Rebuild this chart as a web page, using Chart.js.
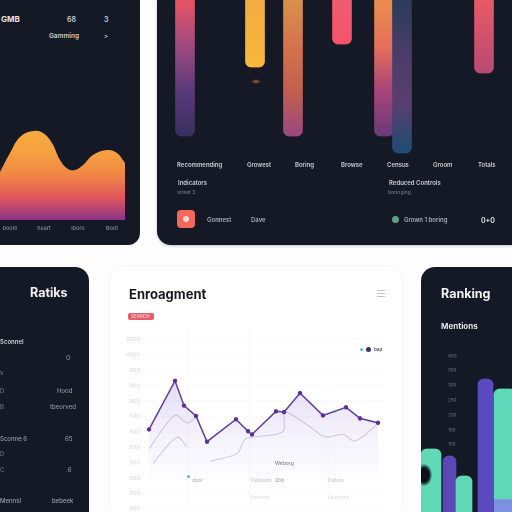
<!DOCTYPE html>
<html>
<head>
<meta charset="utf-8">
<script src="https://cdn.jsdelivr.net/npm/chart.js@4/dist/chart.umd.min.js"></script>
<style>
html, body { margin: 0; padding: 0; width: 512px; height: 512px; overflow: hidden; background: #fdfdfe; }
body { position: relative; font-family: Inter, "Liberation Sans", sans-serif; }
.card { position: absolute; background: #141925; overflow: hidden; }
.t { position: absolute; white-space: nowrap; line-height: 1; transform: translateY(-50%); font-size: 6px; font-weight: 600; color: #c9ccd3; }
.dim { color: #6f7480; font-weight: 500; }
.pale { color: #c8cad0; font-weight: 500; font-size: 5px; }
canvas { position: absolute; }
.soft { position: absolute; inset: 0; filter: blur(0.3px); }
</style>
</head>
<body>
<div class="soft">

<div class="card" style="left:0;top:0;width:140px;height:245px;border-bottom-right-radius:12px">
  <canvas id="areaChart" style="left:0;top:125px"></canvas>
</div>

<div class="card" style="left:157px;top:0;width:355px;height:245px;border-bottom-left-radius:14px;box-shadow:0 1px 3px rgba(20,25,37,.25)">
  <canvas id="dripChart" style="left:0;top:0"></canvas>
  <div style="position:absolute;left:94px;top:79px;width:10px;height:5px;border-radius:50%;background:radial-gradient(#a8683a,transparent 70%)"></div>
  <div style="position:absolute;left:20px;top:210px;width:18px;height:18px;border-radius:4px;background:#f4675c"></div>
  <div style="position:absolute;left:26px;top:216px;width:6px;height:6px;border-radius:50%;background:#ffd9d2"></div>
  <div style="position:absolute;left:235px;top:216px;width:7px;height:7px;border-radius:50%;background:#5f9f86"></div>
</div>

<div class="card" style="left:0;top:267px;width:89px;height:245px;border-top-right-radius:14px"></div>

<div class="card" style="left:110px;top:267px;width:292px;height:250px;background:#fff;border-radius:12px;box-shadow:0 0 0 1px #f6f6f8">
  <canvas id="engageChart" style="left:0;top:58px"></canvas>
  <div style="position:absolute;left:18px;top:46px;width:26px;height:7px;border-radius:2px;background:#ea5a68"></div>
  <div style="position:absolute;left:267px;top:23px;width:8px;height:1px;background:#c4c4ca;box-shadow:0 3px #c4c4ca,0 6px #c4c4ca"></div>
  <div style="position:absolute;left:250px;top:81px;width:3px;height:3px;border-radius:50%;background:#5fb3d9"></div>
  <div style="position:absolute;left:256px;top:80px;width:5px;height:5px;border-radius:50%;background:#3d2f6e"></div>
  <div style="position:absolute;left:77px;top:208px;width:3px;height:3px;border-radius:50%;background:#6fb5a5"></div>
</div>

<div class="card" style="left:421px;top:267px;width:91px;height:245px;border-top-left-radius:14px">
  <canvas id="rankChart" style="left:0;top:0"></canvas>
  <div style="position:absolute;left:-5px;top:197px;width:16px;height:22px;border-radius:50%;background:radial-gradient(#0d1119 45%,transparent 75%)"></div>
</div>

<!-- card text, top left -->
<span class="t" style="left:1px;top:19px;font-size:8px;font-weight:700;color:#e6e8ec">GMB</span>
<span class="t" style="left:67px;top:19px;font-size:7px">68</span>
<span class="t" style="left:104px;top:19px;font-size:7px">3</span>
<span class="t" style="left:49px;top:36px;font-size:6.5px">Gamming</span>
<span class="t" style="left:104px;top:36px;font-size:6px">&gt;</span>

<!-- card text, top right -->
<span class="t" style="left:177px;top:165px">Recommending</span>
<span class="t" style="left:247px;top:165px">Growest</span>
<span class="t" style="left:295px;top:165px">Boring</span>
<span class="t" style="left:341px;top:165px">Browse</span>
<span class="t" style="left:387px;top:165px">Census</span>
<span class="t" style="left:433px;top:165px">Groom</span>
<span class="t" style="left:478px;top:165px">Totals</span>
<span class="t" style="left:178px;top:183px">Indicators</span>
<span class="t dim" style="left:177px;top:192px;font-size:5px">street 3</span>
<span class="t" style="left:389px;top:183px">Reduced Controls</span>
<span class="t dim" style="left:388px;top:192px;font-size:5px">boringing</span>
<span class="t" style="left:207px;top:220px;color:#a9adb6">Gonnest</span>
<span class="t" style="left:251px;top:220px;color:#a9adb6">Dave</span>
<span class="t" style="left:404px;top:220px;color:#a9adb6">Grown 1 boring</span>
<span class="t" style="left:481px;top:220px;font-size:7px;color:#e6e8ec">0+0</span>

<!-- card text, lower left -->
<span class="t" style="left:30px;top:293px;font-size:12.5px;font-weight:700;color:#f1f2f4">Ratiks</span>
<span class="t" style="left:0;top:342px">Sconnel</span>
<span class="t dim" style="left:66px;top:358px;color:#9a9ea8">O</span>
<span class="t dim" style="left:0;top:373px">v</span>
<span class="t dim" style="left:0;top:391px">D</span>
<span class="t dim" style="left:57px;top:391px;color:#8f939d">Hood</span>
<span class="t dim" style="left:0;top:407px">B</span>
<span class="t dim" style="left:50px;top:407px;color:#8f939d">tbeorved</span>
<span class="t dim" style="left:0;top:439px;color:#9a9ea8">Sconne 6</span>
<span class="t dim" style="left:65px;top:439px;color:#8f939d">65</span>
<span class="t dim" style="left:0;top:454px">D</span>
<span class="t dim" style="left:0;top:470px">C</span>
<span class="t dim" style="left:66px;top:470px;color:#8f939d">.6</span>
<span class="t dim" style="left:0;top:501px;color:#9a9ea8">Mennsl</span>
<span class="t dim" style="left:52px;top:501px;color:#9a9ea8">bebeek</span>

<!-- card text, middle -->
<span class="t" style="left:129px;top:294px;font-size:13px;font-weight:700;color:#17181d">Enroagment</span>
<span class="t" style="left:131px;top:316.5px;font-size:4.5px;color:#f7c9cd">SEARCH</span>
<span class="t" style="left:374px;top:350px;font-size:4.5px;color:#55566a">bap</span>
<span class="t pale" style="left:275px;top:463px;color:#8a86a8">Weborg</span>
<span class="t pale" style="left:192px;top:480px;color:#b4b6bc">door</span>
<span class="t pale" style="left:251px;top:480px">Datasets</span>
<span class="t pale" style="left:275px;top:480px;color:#a8aab2">2bb</span>
<span class="t pale" style="left:328px;top:480px">Datum</span>
<span class="t pale" style="left:250px;top:497px;color:#e0e1e5">Reviews</span>
<span class="t pale" style="left:328px;top:497px;color:#e0e1e5">Licenses</span>

<!-- card text, lower right -->
<span class="t" style="left:441px;top:294px;font-size:12.5px;font-weight:700;color:#f1f2f4">Ranking</span>
<span class="t" style="left:441px;top:326px;font-size:8px;font-weight:700;color:#dfe1e6">Mentions</span>

</div>

<script>
// top left area
const areaX = [0, 10, 20, 33, 43, 52, 60, 68, 75, 83, 93, 107, 117, 125];
const areaValues = [48, 67, 83, 89, 87, 77, 60, 51, 50, 55, 65, 70, 67, 57];
const areaTicks = [10, 44, 78, 112];
const areaTickLabels = ["boom", "heart", "Iboro", "Boot"];

// top right hanging bars
const dripX = [28, 98, 136, 185, 227, 245, 327];
const dripValues = [136, 67, 136, 44, 136, 153, 73];

// middle line chart
const engageX = [9, 35, 44, 56, 67, 96, 108, 112, 136, 144, 160, 183, 206, 220, 238];
const engageValues = [516, 832, 671, 604, 437, 582, 505, 484, 634, 629, 752, 607, 660, 588, 559];
const echoAX = [9, 35, 47, 56];
const echoAValues = [391, 609, 559, 596];
const echoBX = [13, 37, 47];
const echoBValues = [298, 466, 404];
const echoCX = [70, 97, 105, 113, 143, 145, 163, 180, 187, 203, 215, 238];
const echoCValues = [311, 360, 453, 466, 503, 627, 565, 484, 466, 484, 441, 553];
const engageGridX = [48, 110, 188];
const engageTickLabels = ["500", "500", "500", "500", "500", "500", "500", "800", "500", "900", "4000", "5000"];

// lower right bars
const rankX = [10, 28.5, 43, 64.5, 84];
const rankValues = [63, 56, 36, 133, 123];
const rankTicks = [68, 82, 97, 112, 127, 142, 156];
const rankTickLabels = ["100", "150", "200", "250", "300", "350", "400"];

// colour stops, top to bottom
const areaColors = ["#f6ab3f", "#f5a041", "#f08645", "#e2565f", "#8b3387"];
const dripColors = [
    ["#e85565", "#a04a80", "#5a3a7a", "#38305e"],
    ["#f3ad42", "#f6b23e", "#f9b83c"],
    ["#d8924a", "#d4744c", "#c2604f", "#9a4880"],
    ["#f05c70", "#f4546c"],
    ["#e98e4e", "#e8705a", "#a8457a", "#6a3a78"],
    ["#2a3c58", "#4a3c68", "#5a3f6e", "#1f4c74"],
    ["#e85a68", "#b84a70"]
];
const rankColors = ["#62d9b6", "#5a48b4", "#62d9b6", "#5a4ac0", "#5fd8b8"];
const rankWidths = [20, 13, 16, 15, 22];

function stops(c, y0, y1, colors) {
    const g = c.chart.ctx.createLinearGradient(0, y0, 0, y1);
    colors.forEach((col, i) => g.addColorStop(i / (colors.length - 1), col));
    return g;
}

// tick labels should not push the plot area in
function noTickPadding(s) {
    s.paddingTop = 0;
    s.paddingBottom = 0;
    s.paddingLeft = 0;
    s.paddingRight = 0;
}

Chart.defaults.animation = false;
Chart.defaults.responsive = false;
Chart.defaults.font.family = "Inter, 'Liberation Sans', sans-serif";
Chart.defaults.plugins.legend.display = false;
Chart.defaults.plugins.tooltip.enabled = false;

function makeCanvas(id, w, h) {
    const el = document.getElementById(id);
    el.width = w;
    el.height = h;
    return el;
}

new Chart(makeCanvas('areaChart', 125, 110), {
    type: 'line',
    data: {
        datasets: [{
            data: areaX.map((x, i) => ({ x: x, y: areaValues[i] })),
            borderWidth: 0,
            pointRadius: 0,
            tension: 0.4,
            fill: 'origin',
            backgroundColor: c => {
                const a = c.chart.chartArea;
                if (!a) return '#f6a93f';
                return stops(c, a.bottom - 89, a.bottom, areaColors);
            }
        }]
    },
    options: {
        devicePixelRatio: 2,
        layout: { padding: 0 },
        scales: {
            x: {
                type: 'linear', min: 0, max: 125,
                afterBuildTicks: s => { s.ticks = areaTicks.map(v => ({ value: v })); },
                afterFit: s => { s.height = 15; noTickPadding(s); },
                grid: { display: false, drawTicks: false },
                border: { display: false },
                ticks: {
                    padding: 5,
                    maxRotation: 0,
                    autoSkip: false,
                    color: '#9ea2ab',
                    font: { size: 5.5 },
                    callback: (v, i) => areaTickLabels[i]
                }
            },
            y: { display: false, min: 0, max: 95 }
        }
    }
});

new Chart(makeCanvas('dripChart', 355, 160), {
    type: 'bar',
    data: {
        datasets: [{
            data: dripX.map((x, i) => ({ x: x, y: dripValues[i] })),
            barThickness: 19,
            borderRadius: 6,
            backgroundColor: c => {
                const a = c.chart.chartArea;
                if (!a || c.dataIndex === undefined) return '#e85565';
                const end = c.chart.scales.y.getPixelForValue(dripValues[c.dataIndex]);
                return stops(c, 0, end, dripColors[c.dataIndex]);
            }
        }]
    },
    options: {
        devicePixelRatio: 2,
        layout: { padding: 0 },
        scales: {
            x: { type: 'linear', display: false, offset: false, min: 0, max: 355 },
            y: { display: false, reverse: true, min: 0, max: 160 }
        }
    }
});

new Chart(makeCanvas('engageChart', 292, 188), {
    type: 'line',
    data: {
        datasets: [
            {
                data: engageX.map((x, i) => ({ x: x, y: engageValues[i] })),
                borderColor: '#5d3ca3',
                borderWidth: 1.5,
                pointRadius: 2.2,
                pointBackgroundColor: '#5a2f9e',
                pointBorderWidth: 0,
                tension: 0,
                fill: 'origin',
                backgroundColor: c => {
                    const a = c.chart.chartArea;
                    if (!a) return 'transparent';
                    return stops(c, a.top + 50, a.bottom - 25, ["rgba(120,90,205,.22)", "rgba(140,115,215,.1)", "rgba(140,115,215,0)"]);
                }
            },
            { data: echoAX.map((x, i) => ({ x: x, y: echoAValues[i] })), borderColor: 'rgba(130,110,190,.35)', borderWidth: 1, pointRadius: 0, tension: 0.3 },
            { data: echoBX.map((x, i) => ({ x: x, y: echoBValues[i] })), borderColor: 'rgba(130,110,190,.35)', borderWidth: 1, pointRadius: 0, tension: 0.3 },
            { data: echoCX.map((x, i) => ({ x: x, y: echoCValues[i] })), borderColor: 'rgba(130,110,190,.35)', borderWidth: 1, pointRadius: 0, tension: 0.3 }
        ]
    },
    options: {
        devicePixelRatio: 2,
        layout: { padding: { left: 0, right: 17, top: 0, bottom: 0 } },
        scales: {
            x: {
                type: 'linear', min: 0, max: 245,
                afterBuildTicks: s => { s.ticks = engageGridX.map(v => ({ value: v })); },
                grid: { color: 'rgba(110,110,150,.05)', drawTicks: false },
                border: { display: false },
                ticks: { display: false }
            },
            y: {
                min: 0, max: 1168,
                afterBuildTicks: s => { s.ticks = engageTickLabels.map((l, i) => ({ value: i * 100 })); },
                afterFit: s => { s.width = 30; noTickPadding(s); },
                grid: { color: 'rgba(110,110,150,.03)', drawTicks: false },
                border: { display: false },
                ticks: {
                    padding: 0,
                    autoSkip: false,
                    color: '#cfd1d6',
                    font: { size: 5.5 },
                    callback: (v, i) => engageTickLabels[i]
                }
            }
        }
    }
});

new Chart(makeCanvas('rankChart', 91, 245), {
    type: 'bar',
    data: {
        datasets: rankValues.map((v, i) => ({
            data: [{ x: rankX[i], y: v }],
            grouped: false,
            barThickness: rankWidths[i],
            borderRadius: 6,
            order: rankValues.length - i,
            backgroundColor: i === 4
                ? (c => {
                    const a = c.chart.chartArea;
                    if (!a) return rankColors[i];
                    const g = c.chart.ctx.createLinearGradient(0, a.bottom - 123, 0, a.bottom);
                    g.addColorStop(0, rankColors[i]);
                    g.addColorStop(0.89, rankColors[i]);
                    g.addColorStop(0.9, '#7d90e2');
                    g.addColorStop(1, '#7d90e2');
                    return g;
                })
                : rankColors[i]
        }))
    },
    options: {
        devicePixelRatio: 2,
        layout: { padding: 0 },
        scales: {
            x: { type: 'linear', display: false, offset: false, min: 0, max: 91 },
            y: {
                min: 0, max: 245,
                afterBuildTicks: s => { s.ticks = rankTicks.map(v => ({ value: v })); },
                afterFit: s => { s.width = 0; noTickPadding(s); },
                grid: { display: false, drawTicks: false },
                border: { display: false },
                ticks: {
                    mirror: true,
                    padding: 27,
                    autoSkip: false,
                    color: '#7b808b',
                    font: { size: 4.5 },
                    callback: (v, i) => rankTickLabels[i]
                }
            }
        }
    }
});
</script>
</body>
</html>
